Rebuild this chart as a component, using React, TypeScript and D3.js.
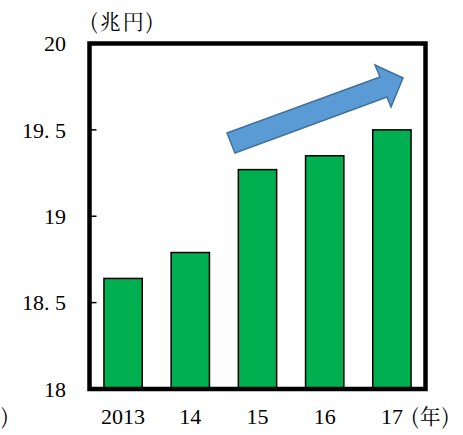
import React from "react";
import * as d3 from "d3";

const categories = ["2013", "14", "15", "16", "17"];
const values = [18.64, 18.79, 19.27, 19.35, 19.5];
const yTicks = [18, 18.5, 19, 19.5, 20];
const yTickLabels = ["18", "18. 5", "19", "19. 5", "20"];
const unitLabel = "(兆円)";
const yearLabel = "(年)";
const clippedLabel = ")";

const W = 463;
const H = 435;
const left = 89.5;
const right = 425.5;
const top = 43.5;
const bottom = 389;

export default function App() {
  const x = d3.scaleBand<string>().domain(categories).range([left, right]).paddingInner(0.43).paddingOuter(0.215);
  const y = d3.scaleLinear().domain([18, 20]).range([bottom, top]);
  const serif = "Liberation Serif, serif";
  const cjk = "Noto Serif CJK JP, Noto Sans CJK JP, serif";

  const arrow: [number, number][] = [
    [227, 133],
    [380, 77],
    [375, 65],
    [403, 78],
    [391, 107],
    [387, 97],
    [235, 153],
  ];
  const arrowPath = d3.line()(arrow) + "Z";

  return (
    <svg width={W} height={H} style={{ position: "absolute", left: 0, top: 0, background: "#fff" }}>
      {categories.map((c, i) => (
        <rect
          key={c}
          x={x(c)}
          y={y(values[i])}
          width={x.bandwidth()}
          height={bottom - y(values[i])}
          fill="#00b050"
          stroke="#000"
          strokeWidth={1.5}
        />
      ))}
      {yTicks.map((t) => (
        <line key={t} x1={left} x2={left + 7} y1={y(t)} y2={y(t)} stroke="#000" strokeWidth={1.5} />
      ))}
      <rect x={left} y={top} width={right - left} height={bottom - top} fill="none" stroke="#000" strokeWidth={4.5} />
      {yTicks.map((t, i) => (
        <text key={t} x={66} y={y(t)} dy="0.35em" textAnchor="end" fontFamily={serif} fontSize={22} fill="#000">
          {yTickLabels[i]}
        </text>
      ))}
      {categories.map((c) => (
        <text key={c} x={(x(c) as number) + x.bandwidth() / 2} y={424} textAnchor="middle" fontFamily={serif} fontSize={22} fill="#000">
          {c}
        </text>
      ))}
      <text x={411} y={424} fontFamily={cjk} fontSize={21} letterSpacing={1} fill="#000">{yearLabel}</text>
      <text x={1} y={424} fontFamily={cjk} fontSize={21} fill="#000">{clippedLabel}</text>
      <text x={90} y={29} fontFamily={cjk} fontSize={21} letterSpacing={2} fill="#000">{unitLabel}</text>
      <path d={arrowPath} fill="#5b9bd5" stroke="#41719c" strokeWidth={1.5} strokeLinejoin="miter" />
    </svg>
  );
}
